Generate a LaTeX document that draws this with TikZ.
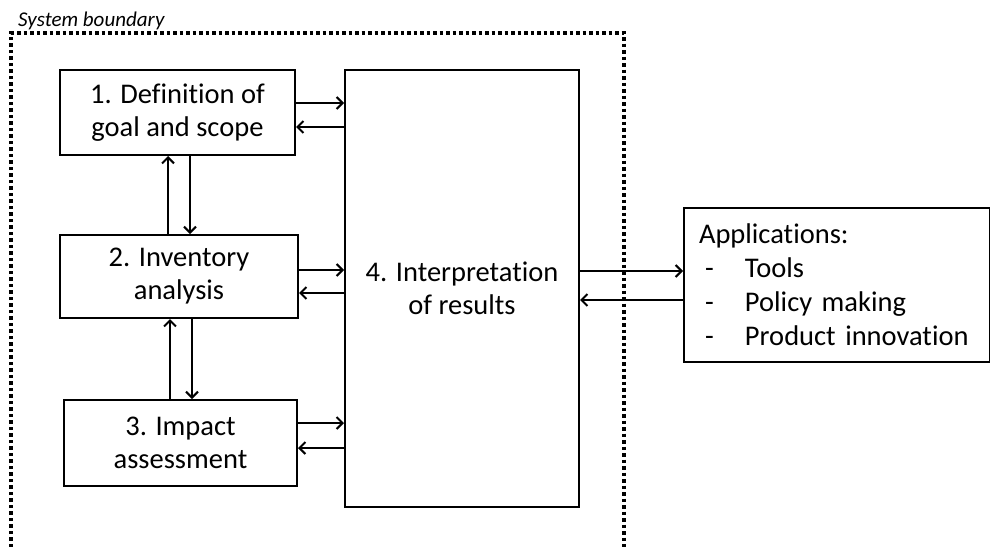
\documentclass[tikz,border=0pt]{standalone}
\usepackage{fontspec}
\setmainfont{Carlito}[Ligatures=NoCommon]
\usetikzlibrary{arrows.meta}

\tikzset{
  stage/.style={draw, line width=2pt, align=center, inner sep=0pt,
    font=\fontsize{28.5}{33}\selectfont},
  flow/.style={line width=2pt, -{Straight Barb[length=6pt,width=12pt,line width=2pt]}},
}

\begin{document}
\begin{tikzpicture}[x=1pt,y=-1pt]
    \useasboundingbox (0,0) rectangle (990,546);
    % System boundary
    \draw[line width=3.5pt, dash pattern=on 3.5pt off 3pt] (11,560) -- (11,33) -- (624,33) -- (624,560);
    \node[anchor=base west, inner sep=0pt, font=\fontsize{21}{22}\selectfont\itshape] (sysb) at (18,26) {System boundary};

    % Stages
    \node[stage, minimum width=235pt, minimum height=85pt] (goal) at (177.5,112.5) {1. Definition of\\goal and scope};
    \node[stage, minimum width=238pt, minimum height=83pt] (inv) at (179,276.5) {2. Inventory\\analysis};
    \node[stage, minimum width=233pt, minimum height=86pt] (imp) at (180.5,443) {3. Impact\\assessment};
    \node[stage, minimum width=234pt, minimum height=437pt] (interp) at (462,288.5) {4. Interpretation\\of results};

    % Applications
    \node[draw, line width=2pt, minimum width=306pt, minimum height=154pt, inner xsep=15pt,
      text width=276pt, align=left, font=\fontsize{28.5}{34}\selectfont] (apps) at (837,285)
      {Applications:\\
       \makebox[46pt][l]{\hspace{6pt}-}Tools\\
       \makebox[46pt][l]{\hspace{6pt}-}Policy making\\
       \makebox[46pt][l]{\hspace{6pt}-}Product innovation};

    % Stages <-> interpretation
    \draw[flow] ([yshift=9.5pt]goal.east) -- ([yshift=9.5pt]goal.east -| interp.west);
    \draw[flow] ([yshift=-14.5pt]goal.east -| interp.west) -- ([yshift=-14.5pt]goal.east);
    \draw[flow] ([yshift=6.5pt]inv.east) -- ([yshift=6.5pt]inv.east -| interp.west);
    \draw[flow] ([yshift=-16.5pt]inv.east -| interp.west) -- ([yshift=-16.5pt]inv.east);
    \draw[flow] ([yshift=20pt]imp.east) -- ([yshift=20pt]imp.east -| interp.west);
    \draw[flow] ([yshift=-5pt]imp.east -| interp.west) -- ([yshift=-5pt]imp.east);

    % Between stages
    \draw[flow] ([xshift=-9.5pt]goal.south |- inv.north) -- ([xshift=-9.5pt]goal.south);
    \draw[flow] ([xshift=12.5pt]goal.south) -- ([xshift=12.5pt]goal.south |- inv.north);
    \draw[flow] ([xshift=-9pt]inv.south |- imp.north) -- ([xshift=-9pt]inv.south);
    \draw[flow] ([xshift=13pt]inv.south) -- ([xshift=13pt]inv.south |- imp.north);

    % Interpretation <-> applications
    \draw[flow] ([yshift=17.5pt]interp.east) -- ([yshift=17.5pt]interp.east -| apps.west);
    \draw[flow] ([yshift=-11.5pt]interp.east -| apps.west) -- ([yshift=-11.5pt]interp.east);
\end{tikzpicture}
\end{document}
